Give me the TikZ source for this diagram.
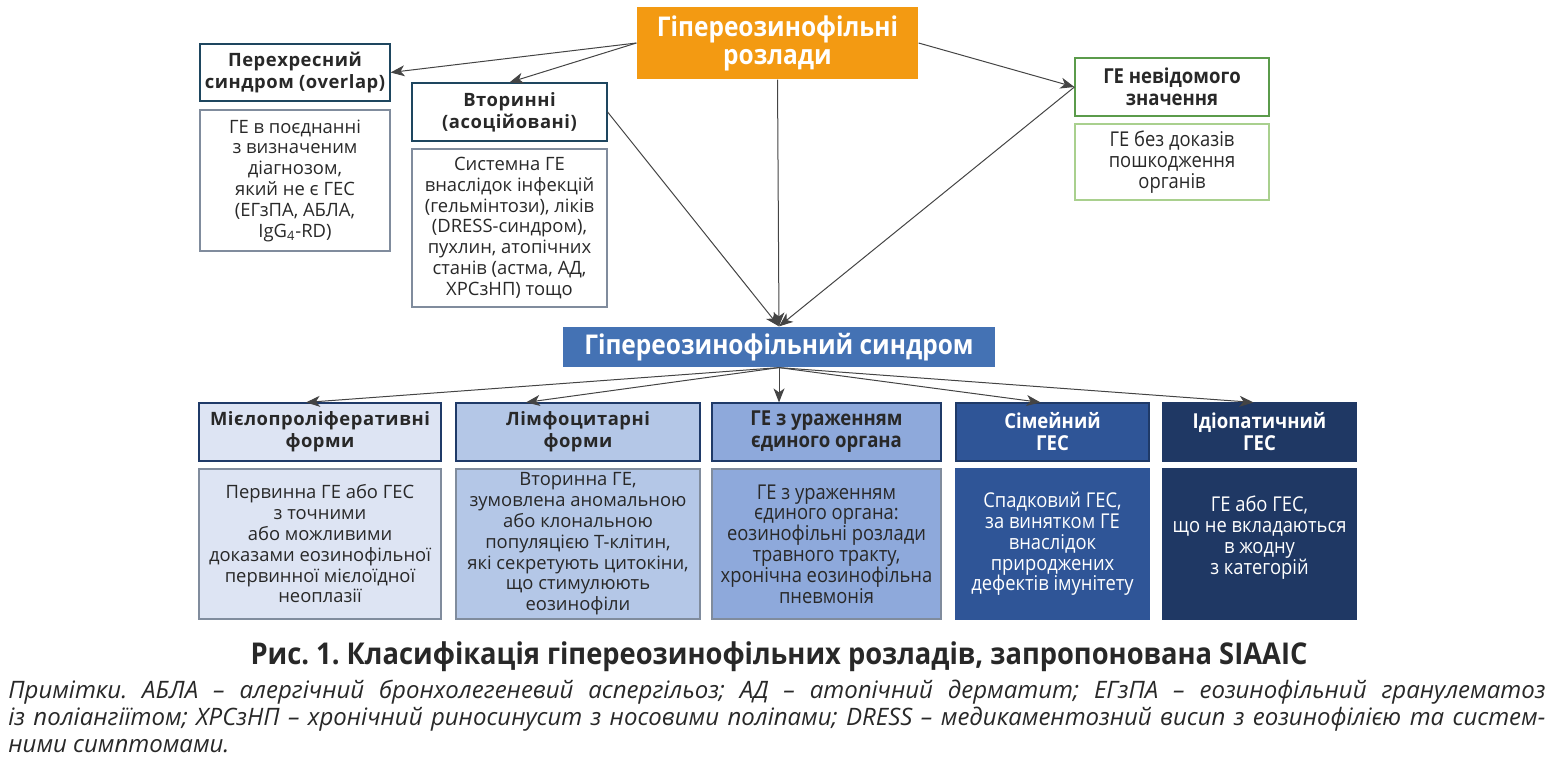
\documentclass[tikz,border=0pt]{standalone}
\usepackage{fontspec}
\setmainfont{Open Sans}
\newfontfamily\cond[FakeStretch=0.9]{Open Sans}
\newfontfamily\capfont[FakeStretch=0.91]{Open Sans}
\newfontfamily\hdrfont[LetterSpace=3]{Open Sans}
\usetikzlibrary{arrows.meta}
\frenchspacing

\definecolor{orangebox}{RGB}{243,154,18}
\definecolor{hesblue}{RGB}{68,114,180}
\definecolor{formA}{RGB}{221,228,243}
\definecolor{formB}{RGB}{180,199,231}
\definecolor{formC}{RGB}{142,169,219}
\definecolor{formD}{RGB}{47,85,151}
\definecolor{formE}{RGB}{31,56,100}
\definecolor{navyline}{RGB}{31,58,104}
\definecolor{tealline}{RGB}{30,70,95}
\definecolor{greyline}{RGB}{128,140,157}
\definecolor{greenline}{RGB}{91,155,75}
\definecolor{lightgreen}{RGB}{169,208,142}
\definecolor{arrowgrey}{RGB}{68,68,68}
\definecolor{txt}{RGB}{40,40,40}

\begin{document}
\begin{tikzpicture}[x=0.5pt,y=-0.5pt,
  box/.style={rectangle,inner sep=0pt,align=center,line width=0.6pt,text=txt},
  hdr/.style={box,font=\hdrfont\fontsize{9.2}{11}\selectfont\bfseries},
  hdrc/.style={box,font=\cond\fontsize{10.3}{11}\selectfont\bfseries},
  descr/.style={box,font=\fontsize{9.2}{10.4}\selectfont},
  descrc/.style={box,font=\cond\fontsize{10.2}{10.4}\selectfont},
  arr/.style={-{Stealth[length=7pt,width=5.5pt,inset=2pt]},draw=arrowgrey,line width=0.5pt}]

\useasboundingbox (0,0) rectangle (1561,765);

% top level
\node[box,fill=orangebox,text=white,minimum width=140.5pt,minimum height=36pt,
  font=\cond\fontsize{13.6}{14}\selectfont\bfseries] at (777.5,43) (top) {Гіпереозинофільні\\розлади};

\node[hdr,draw=tealline,minimum width=95pt,minimum height=28.5pt] at (295,72.5) (over) {Перехресний\\синдром (overlap)};
\node[descr,draw=greyline,minimum width=95pt,minimum height=70.5pt] at (295,180.5) (overtxt)
  {ГЕ в поєднанні\\з визначеним\\діагнозом,\\який не є ГЕС\\(ЕГзПА, АБЛА,\\IgG\textsubscript{4}-RD)};

\node[hdr,draw=tealline,minimum width=97.5pt,minimum height=29pt] at (509.5,112) (sec) {Вторинні\\(асоційовані)};
\node[descr,draw=greyline,minimum width=97.5pt,minimum height=79pt] at (509.5,228) (sectxt)
  {Системна ГЕ\\внаслідок інфекцій\\(гельмінтози), ліків\\(DRESS-синдром),\\пухлин, атопічних\\станів (астма, АД,\\ХРСзНП) тощо};

\node[hdrc,draw=greenline,minimum width=97pt,minimum height=29pt] at (1172,87) (unk) {ГЕ невідомого\\значення};
\node[descrc,draw=lightgreen,minimum width=97pt,minimum height=38pt] at (1172,162) (unktxt)
  {ГЕ без доказів\\пошкодження\\органів};

% syndrome
\node[box,fill=hesblue,text=white,minimum width=216pt,minimum height=20pt,
  font=\cond\fontsize{13.6}{14}\selectfont\bfseries] at (779,347) (hes) {Гіпереозинофільний синдром};

% forms
\node[hdr,fill=formA,draw=navyline,minimum width=121pt,minimum height=29pt] at (320,432) (mye) {Мієлопроліферативні\\форми};
\node[descr,fill=formA,draw=greyline,minimum width=121pt,minimum height=75pt] at (320,544) (myetxt)
  {Первинна ГЕ або ГЕС\\з точними\\або можливими\\доказами еозинофільної\\первинної мієлоїдної\\неоплазії};

\node[hdr,fill=formB,draw=navyline,minimum width=122pt,minimum height=29pt] at (578,432) (lym) {Лімфоцитарні\\форми};
\node[descr,fill=formB,draw=greyline,minimum width=122pt,minimum height=75pt] at (578,544) (lymtxt)
  {Вторинна ГЕ,\\зумовлена аномальною\\або клональною\\популяцією Т-клітин,\\які секретують цитокіни,\\що стимулюють\\еозинофіли};

\node[hdrc,fill=formC,draw=navyline,minimum width=114.5pt,minimum height=29pt] at (826.5,432) (org) {ГЕ з ураженням\\єдиного органа};
\node[descrc,fill=formC,draw=greyline,minimum width=114.5pt,minimum height=75pt] at (826.5,544) (orgtxt)
  {ГЕ з ураженням\\єдиного органа:\\еозинофільні розлади\\травного тракту,\\хронічна еозинофільна\\пневмонія};

\node[hdrc,fill=formD,draw=navyline,text=white,minimum width=96.5pt,minimum height=29pt] at (1052.5,432) (fam) {Сімейний\\ГЕС};
\node[descrc,fill=formD,draw=formD,text=white,minimum width=96.5pt,minimum height=75pt] at (1052.5,544) (famtxt)
  {Спадковий ГЕС,\\за винятком ГЕ\\внаслідок\\природжених\\дефектів імунітету};

\node[hdrc,fill=formE,draw=formE,text=white,minimum width=96.5pt,minimum height=29pt] at (1259.5,432) (idi) {Ідіопатичний\\ГЕС};
\node[descrc,fill=formE,draw=formE,text=white,minimum width=96.5pt,minimum height=75pt] at (1259.5,544) (iditxt)
  {ГЕ або ГЕС,\\що не вкладаються\\в жодну\\з категорій\\[-1.4pt]\mbox{}};

% connectors
\draw[arr] (top.west) -- (over.east);
\draw[arr] (top.west) -- (sec.north);
\draw[arr] (top.east) -- (unk.west);
\draw[arr] (top.south) -- (hes.north);
\draw[arr] (sec.east) -- (hes.north);
\draw[arr] (unk.west) -- (hes.north);

\draw[arr] (hes.south) -- ([xshift=-7pt]mye.north);
\draw[arr] (hes.south) -- ([xshift=-26pt]lym.north);
\draw[arr] (hes.south) -- (hes.south |- org.north);
\draw[arr] (hes.south) -- ([xshift=-6pt]fam.north);
\draw[arr] (hes.south) -- ([xshift=-3pt]idi.north);

% caption and notes
\node[text=txt,font=\capfont\fontsize{15}{17}\selectfont\bfseries] at (779,657) (cap)
  {Рис. 1. Класифікація гіпереозинофільних розладів, запропонована SIAAIC};
\node[anchor=north west,inner sep=0pt,text=txt,text width=768.5pt,align=justify,
  font=\fontsize{12}{13.5}\selectfont\itshape] at (8,680) (notes)
  {Примітки. АБЛА – алергічний бронхолегеневий аспергільоз; АД – атопічний дерматит; ЕГзПА – еозинофільний гранулематоз\linebreak
   із поліангіїтом; ХРСзНП – хронічний риносинусит з носовими поліпами; DRESS – медикаментозний висип з еозинофілією та систем-\linebreak
   ними симптомами.};

\end{tikzpicture}
\end{document}
